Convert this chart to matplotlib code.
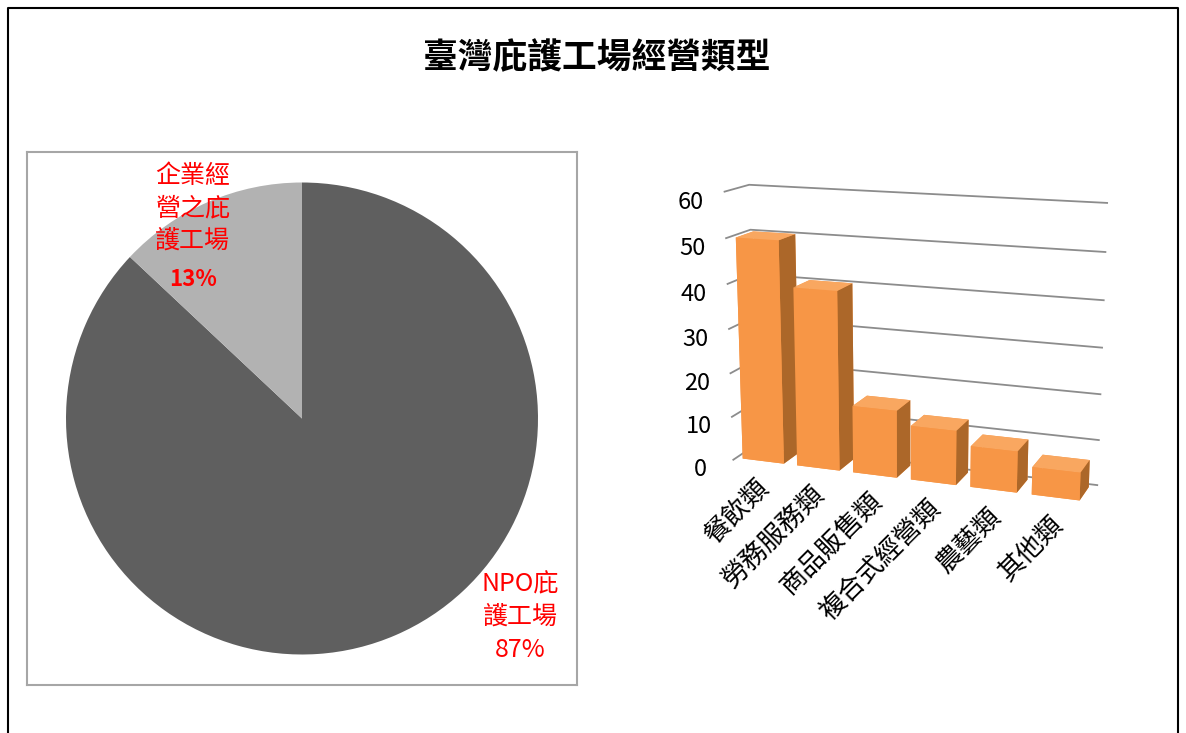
import numpy as np
import matplotlib
matplotlib.use("Agg")
import matplotlib.pyplot as plt
from matplotlib.lines import Line2D
from matplotlib.transforms import offset_copy
from mpl_toolkits.mplot3d import proj3d

plt.rcParams['font.family'] = ['Noto Sans CJK TC', 'DejaVu Sans']

title = '臺灣庇護工場經營類型'
pie_labels = ['NPO庇\n護工場', '企業經\n營之庇\n護工場']
pie_values = [87, 13]
pie_colors = ['#5F5F5F', '#B2B2B2']

categories = ['餐飲類', '勞務服務類', '商品販售類', '複合式經營類', '農藝類', '其他類']
counts = [50, 40, 15, 12, 9, 6]
z_ticks = [0, 10, 20, 30, 40, 50, 60]

W, H = 1186, 733
fig = plt.figure(figsize=(W / 100, H / 100), dpi=100)

# outer frame (open at the bottom)
fig.add_artist(Line2D([8 / W, 8 / W, 1178 / W, 1178 / W], [-0.05, 1 - 8 / H, 1 - 8 / H, -0.05],
                      color='black', lw=1.5))
fig.text(0.503, 1 - 58 / H, title, ha='center', va='center', fontsize=25, fontweight='bold')

# ---- pie ----
r = 236
ax = fig.add_axes([27 / W, 1 - 685 / H, 550 / W, 533 / H])
ax.pie(pie_values, colors=pie_colors, startangle=90, counterclock=False, radius=1)
ax.set_aspect('auto')
ax.set_xlim(-275 / r, 275 / r)
ax.set_ylim(-266.5 / r, 266.5 / r)
ax.set_frame_on(True)
for s in ax.spines.values():
    s.set_color('#A6A6A6')
    s.set_linewidth(1.5)
ax.set_xticks([])
ax.set_yticks([])
ax.text(-0.462, 0.89, pie_labels[1], color='red', fontsize=18,
        ha='center', va='center', linespacing=1.3)
ax.text(-0.462, 0.59, f'{pie_values[1]}%', color='red', fontsize=16, fontweight='bold',
        ha='center', va='center')
ax.text(0.924, -0.841, f'{pie_labels[0]}\n{pie_values[0]}%', color='red', fontsize=18,
        ha='center', va='center', linespacing=1.35)

# ---- 3D columns ----
ax3 = fig.add_axes([0.555, 0.215, 0.415, 0.63], projection='3d')
x = np.arange(len(counts))
# face order per bar: bottom, top, front, back, left, right
face_cols = ['#F79646', '#F9A760', '#F79646', '#F79646', '#F79646', '#AC6729']
ax3.bar3d(x + 0.12, 0.15, 0, 0.76, 0.7, counts, color=face_cols * len(counts), shade=False,
          edgecolor='none')
ax3.set_xlim(0, len(counts))
ax3.set_ylim(0, 1)
ax3.set_zlim(0, 60)
ax3.set_box_aspect((6, 0.9, 4.5))
ax3.view_init(elev=14, azim=-70)
ax3.set_proj_type('persp', focal_length=0.55)

ax3.set_xticks([])
ax3.set_yticks([])
ax3.set_zticks(z_ticks)
ax3.zaxis.set_ticks_position('lower')
ax3.tick_params(axis='z', labelsize=17, pad=8)
for axis in (ax3.xaxis, ax3.yaxis, ax3.zaxis):
    axis.set_pane_color((1, 1, 1, 0))
    axis.pane.set_edgecolor('#A0A0A0')
    axis.pane.set_linewidth(1.2)
    axis.line.set_color((0, 0, 0, 0))
for axis in (ax3.xaxis, ax3.yaxis):
    axis._axinfo['grid'].update(color=(1, 1, 1, 0))
ax3.zaxis._axinfo['grid'].update(color='#8C8C8C', linewidth=1.3, linestyle='-')
ax3.zaxis._axinfo['tick'].update(inward_factor=0, outward_factor=0)

fig.canvas.draw()
M = ax3.get_proj()
lab_tr = offset_copy(ax3.transData, fig=fig, x=-4, y=-10, units='dots')
for xi, lab in zip(x, categories):
    px, py, _ = proj3d.proj_transform(xi + 0.5, 0, 0, M)
    ax3.text2D(px, py, lab, transform=lab_tr, rotation=45, rotation_mode='anchor',
               ha='right', va='top', fontsize=19)

fig.savefig('out.png', dpi=100)
